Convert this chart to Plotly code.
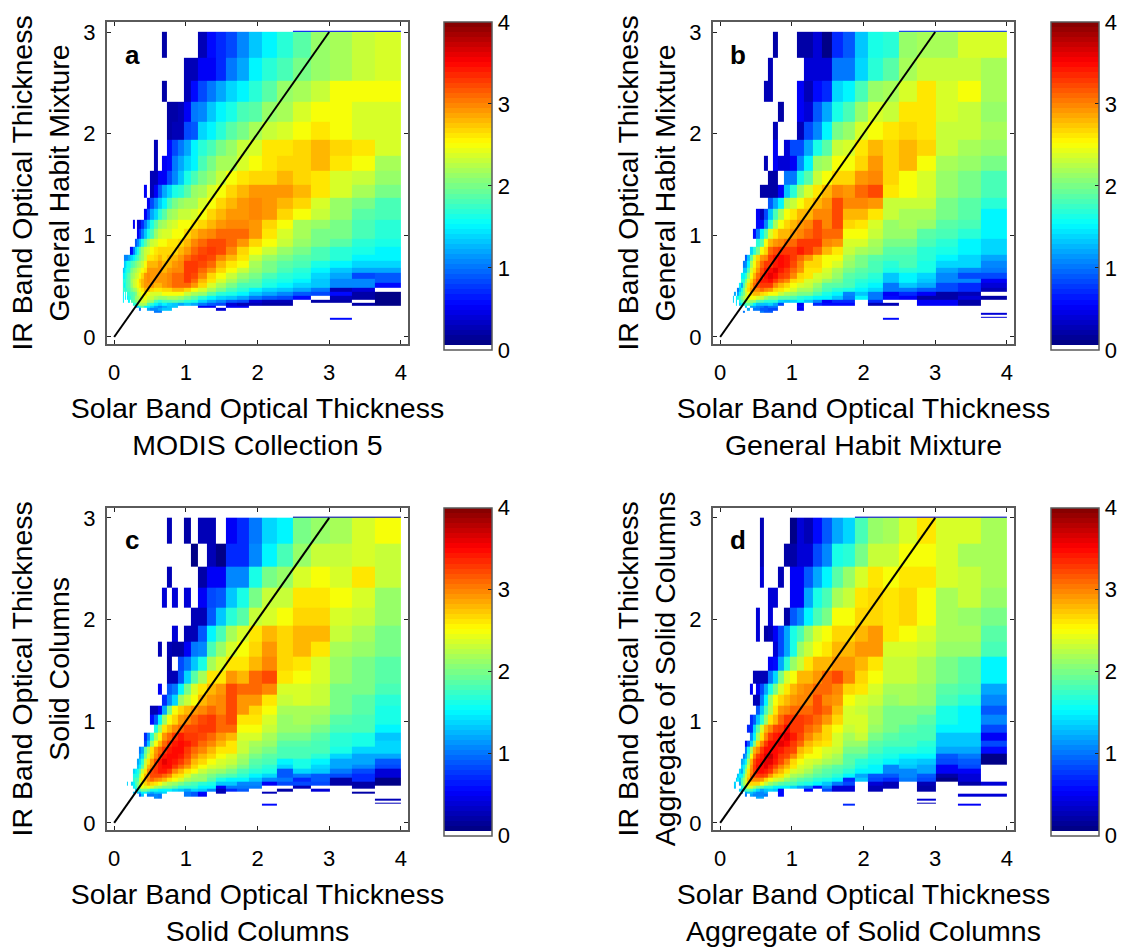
import plotly.graph_objects as go

_ = None
tau_x_edges = [.122,.134,.147,.162,.178,.195,.214,.236,.259,.285,.313,.344,.378,.415,.456,.501,.551,.605,.665,.731,.804,.883,.971,1.067,1.172,1.288,1.416,1.556,1.71,1.88,2.066,2.27,2.495,2.742,3.014,3.312,3.64,4.0]
tau_y_edges = [.17,.186,.2025,.22,.24,.26,.29,.31,.34,.37,.41,.44,.48,.53,.57,.63,.68,.75,.81,.89,.97,1.06,1.15,1.26,1.37,1.5,1.63,1.78,1.94,2.12,2.31,2.52,2.75,3.0,3.012]
diag_x = [0, 3]
diag_y = [0, 3]
tick_x = [0, 1, 2, 3, 4]
tick_y = [0, 1, 2, 3]
tick_c = [0, 1, 2, 3, 4]
letters = ["a", "b", "c", "d"]
y_titles = ["IR Band Optical Thickness<br>General Habit Mixture",
            "IR Band Optical Thickness<br>General Habit Mixture",
            "IR Band Optical Thickness<br>Solid Columns",
            "IR Band Optical Thickness<br>Aggregate of Solid Columns"]
x_titles = ["Solar Band Optical Thickness<br>MODIS Collection 5",
            "Solar Band Optical Thickness<br>General Habit Mixture",
            "Solar Band Optical Thickness<br>Solid Columns",
            "Solar Band Optical Thickness<br>Aggregate of Solid Columns"]

# log10-count values x10; rows run top to bottom, each row is right-aligned to the 4.0 edge
panel_a = [
[6,6,6,6,6],
[2,_,_,_,_,_,3,6,7,8,11,13,15,17,19,21,22,23,24],
[3,3,5,5,7,10,12,15,17,18,20,21,22,23,24],
[2,_,_,_,3,6,8,10,12,14,15,17,19,21,22,23,25,25,25],
[2,2,3,5,10,11,13,15,16,18,19,21,22,24,25,25,24,24],
[2,3,3,8,9,14,15,17,19,20,22,23,24,25,26,25,24,24],
[3,_,_,6,8,10,12,15,17,18,20,21,23,24,26,26,27,28,27,26,24],
[3,_,5,6,10,12,14,15,18,20,22,22,24,25,26,27,27,28,26,25,22],
[3,3,5,5,8,11,13,16,18,20,21,23,25,26,27,27,28,27,26,24,23,21],
[5,_,3,5,9,12,14,16,17,19,21,22,24,25,27,28,29,29,29,28,26,24,22,20],
[5,8,11,13,15,18,20,21,22,22,24,25,27,28,29,30,29,28,27,24,21,20,18],
[5,8,12,14,17,19,21,22,23,23,24,25,27,28,29,29,30,29,27,25,23,21,19,18],
[5,_,4,4,7,10,13,16,19,21,22,23,24,25,25,26,27,28,29,30,30,29,27,25,22,21,20,18,17],
[5,7,10,13,16,18,21,23,24,24,25,25,27,28,29,30,31,31,31,29,26,24,22,20,20,18,17],
[9,11,13,16,19,21,23,24,25,25,26,26,27,28,30,31,32,32,31,29,27,25,23,21,20,19,17,16],
[5,6,10,14,16,19,21,23,24,25,26,27,27,27,27,28,29,31,32,33,32,30,27,25,23,21,20,18,17,16,15],
[11,11,11,11,12,13,14,15,17,18,20,21,23,26,26,27,28,27,28,28,29,31,32,33,32,30,28,26,23,21,20,19,18,17,15,15],
[13,14,15,16,16,17,18,19,20,21,22,23,25,28,28,28,29,28,28,29,30,33,33,32,31,28,26,25,22,20,19,18,16,15,14,14],
[13,14,15,16,17,17,19,20,21,22,23,24,25,26,29,29,29,29,28,29,30,30,33,33,31,29,27,25,23,21,20,18,17,15,13,12,12],
[15,15,16,17,18,19,20,21,22,23,24,25,27,29,30,29,29,29,29,30,31,31,33,32,30,27,25,23,21,20,18,17,16,14,12,8,9],
[16,17,16,18,18,19,20,22,23,24,25,27,28,29,30,29,29,29,29,30,31,31,33,31,28,26,24,22,20,19,17,16,15,13,11,11,9],
[17,15,16,18,18,19,20,21,23,24,25,26,28,29,29,29,28,28,29,30,31,31,31,29,27,24,22,20,18,18,16,15,14,13,11,11,6],
[17,18,16,17,18,18,19,20,21,22,24,25,26,28,28,27,26,26,27,27,28,28,27,25,24,22,20,18,17,15,14,13,12,10,3,4,_],
[15,_,17,_,16,17,18,18,19,20,23,24,25,26,25,24,24,24,25,25,25,25,23,22,21,19,17,16,15,13,12,11,9,8,6,2,1],
[15,_,15,_,15,16,17,18,19,21,22,23,24,25,24,23,22,21,21,22,22,21,20,19,17,15,14,13,12,10,9,8,6,_,3,2,1],
[15,_,_,_,_,15,_,18,19,20,22,23,24,24,22,21,18,17,18,18,19,18,17,16,14,12,11,9,8,4,3,3,_,2,2,_,1],
[17,17,20,22,22,22,18,17,15,14,15,14,13,12,13,12,10,9,8,4,3,3,2,2,_,_,_,2,1],
[11,14,17,19,15,15,14,12,11,12,13,13,_,_,_,5,5,_,5,5]+[_]*8,
[10,_,_,12,11,11,12,13,13,_,_,_,_,_,_,4]+[_]*10,
[10,10]+[_]*19,
[], [], [],
[6,_,_],
]
panel_b = [
[7,7,7,7,7],
[2,_,_,_,2,2,4,1,7,9,13,16,17,21,22,22,24,24],
[3,_,_,_,_,_,4,4,4,10,10,14,17,19,22,23,23,23,22],
[3,3,_,_,_,_,5,3,6,7,14,15,18,21,22,24,26,24,25,22],
[2,_,_,5,4,9,12,16,18,21,24,23,26,26,24,23,21],
[3,_,_,_,3,8,11,15,20,21,24,25,26,27,26,23,23,22],
[5,_,4,8,8,12,16,19,23,24,26,28,27,28,27,23,22,21],
[3,_,5,4,4,5,11,15,21,22,25,25,27,29,27,28,25,22,21,20],
[2,2,_,10,10,16,19,23,25,27,27,29,30,27,25,24,21,20,18],
[2,2,2,2,5,13,17,21,24,26,28,30,29,31,32,26,25,24,21,20,18],
[9,12,15,22,23,25,27,28,29,32,30,30,29,23,23,23,20,19,17],
[5,3,8,13,18,22,25,26,28,28,30,30,32,28,28,26,23,22,22,20,19,15],
[6,6,11,17,22,25,27,28,29,30,32,30,32,27,26,24,21,22,21,19,18,15],
[6,10,15,19,24,26,28,28,29,30,31,32,31,31,25,25,23,21,21,19,18,17,15],
[17,19,25,28,29,30,31,31,33,33,33,30,29,24,24,22,20,20,18,17,15,14],
[14,17,20,25,27,31,32,33,33,33,34,33,31,28,26,23,22,21,19,19,17,16,15,14],
[9,13,19,24,27,29,30,33,34,35,34,33,31,29,27,25,25,22,20,19,18,18,17,15,14,12],
[10,11,15,22,25,28,31,33,33,34,35,34,32,30,27,27,25,24,21,20,18,17,18,16,14,14,11],
[13,13,18,24,26,29,32,34,35,36,34,33,31,29,26,26,24,22,20,19,18,16,17,16,12,11,10],
[15,15,17,21,25,28,31,33,35,36,35,33,32,30,27,26,24,23,21,19,18,17,13,15,14,11,8,8],
[17,16,20,24,27,30,32,34,34,35,33,31,30,27,26,24,23,21,20,18,17,16,13,15,13,11,11,5],
[15,12,18,22,26,28,31,32,33,33,33,30,28,27,25,24,23,21,19,19,18,16,15,10,13,12,8,7,4],
[10,13,16,20,24,27,29,30,30,31,30,29,27,26,25,24,22,22,20,18,17,16,15,14,10,10,9,8,7,3],
[12,_,12,15,18,20,23,25,27,28,28,27,26,25,25,23,22,21,20,20,18,16,15,11,13,10,5,7,5,2,3,_],
[14,_,15,16,18,20,22,24,25,25,25,24,23,21,20,20,19,19,18,17,16,15,15,13,10,15,10,6,5,2,2,4,2],
[14,_,14,_,16,18,20,22,22,21,21,19,18,17,17,17,14,13,14,15,13,11,5,7,7,_,7,_,_,5,5,2,_],
[15,_,13,15,17,18,19,18,15,13,13,13,14,12,8,_,_,5,_,7,6,6,6,_,3,3,_,5,5,2,_],
[13,_,12,12,11,10,9,10,10,_,_,_,6]+[_]*13,
[12,_,10,10,9,9,8,8,_,_,_,5]+[_]*13,
[10,_,_,_,_,_,10,9,9]+[_]*18,
[4], [], [4],
[6]+[_]*5,
]
panel_c = [
[3,3,3,3,3],
[3,_,_,2,_,3,3,_,5,7,10,14,15,20,21,22,24,25],
[1,_,3,1,7,7,11,15,18,21,23,23,24,23],
[3,_,_,_,_,2,5,5,11,11,16,20,21,24,25,24,26,23],
[4,_,4,_,4,_,5,8,9,13,16,20,23,23,26,26,25,24,21],
[3,3,9,13,17,19,23,24,25,27,27,24,23,21],
[4,_,3,3,9,15,18,22,24,26,28,27,28,28,23,22,20],
[3,_,3,2,2,5,10,11,18,21,24,25,27,29,27,28,26,22,21,20],
[2,_,8,10,13,16,22,24,26,26,28,30,27,26,24,21,20,19],
[3,3,9,14,19,22,26,26,29,28,31,32,26,25,24,21,20,19],
[5,_,9,10,15,20,24,26,28,29,32,31,31,30,24,24,23,20,20,18],
[7,11,14,21,23,25,28,29,30,32,29,29,26,23,24,23,20,19,17],
[3,3,5,12,20,25,27,28,29,30,31,30,32,29,27,25,22,22,22,20,19,16],
[6,9,15,21,25,27,29,30,31,32,33,31,32,26,26,24,21,22,21,19,18,16],
[16,21,26,28,30,31,32,32,33,33,31,31,25,25,23,21,21,20,18,18,15],
[7,11,17,22,25,29,31,33,34,33,33,32,31,29,28,24,24,22,20,20,19,17,16,13],
[8,13,21,25,28,31,33,34,35,34,33,31,30,28,26,23,22,21,19,19,18,17,16,14],
[10,12,19,22,26,29,31,33,34,35,35,33,31,30,28,26,26,23,21,20,18,18,18,16,14,14],
[12,14,20,24,27,30,32,34,35,35,34,32,30,28,27,25,24,22,20,19,18,18,17,14,12,12],
[12,14,17,23,26,29,32,34,36,35,34,33,31,28,27,25,24,23,21,19,18,15,16,15,12,12,9],
[13,15,19,24,28,30,33,34,35,35,33,31,29,27,25,24,23,22,20,18,17,14,16,14,12,11,8],
[14,15,16,19,23,26,30,32,33,34,34,33,30,28,26,25,23,22,21,20,18,17,16,9,14,13,10,8,4],
[16,16,17,21,25,28,30,32,32,32,31,30,27,26,24,22,21,20,19,18,17,15,14,9,10,9,8,7,4],
[17,18,18,23,26,28,30,31,30,29,28,26,25,24,22,21,21,19,16,15,15,13,11,10,7,9,2,7,1],
[14,_,_,14,15,18,20,23,25,27,28,27,26,25,23,22,21,20,19,18,17,16,13,13,11,11,5,8,8,8,2,2,1],
[15,17,20,23,25,24,25,24,22,21,20,20,19,17,17,17,15,15,5,10,10,10,_,_,3,_,_,2,_],
[13,17,18,20,20,19,16,16,15,15,15,14,13,12,14,13,11,3,7,9,_,_,2,_,4,_,_,_],
[13,_,13,12,15,15,13,12,13,13,14,_,_,_,10,9,6,_,3,_,_,_,3,_,_,_,_,2,_],
[9,13,_,10,10,11,10,_,_,_,_,10,9,5]+[_]*12,
[11,10]+[_]*19,
[3], [], [3],
[6]+[_]*6,
]
panel_d = [
[4,4,4,4,4,4,4,4],
[3,_,_,_,_,_,1,4,3,6,9,12,14,18,21,22,24,26,24,24,22],
[3,_,_,_,_,2,2,4,4,8,11,16,17,20,23,23,25,25,24,22,22],
[4,_,_,_,3,_,5,5,9,12,15,19,21,24,26,25,26,26,24,23,22],
[4,4,_,_,5,5,12,16,18,22,23,26,27,26,27,25,22,23,21],
[4,_,_,4,_,_,2,9,11,15,18,20,25,25,27,27,26,27,25,22,21,20],
[4,_,2,3,5,8,12,16,18,21,24,25,27,27,28,29,26,25,24,22,22,19],
[4,8,12,16,21,23,25,26,28,28,29,29,24,24,23,21,21,18],
[5,6,12,17,21,23,26,28,28,29,29,28,26,23,23,22,20,19,15],
[3,3,3,3,10,14,20,24,25,28,28,29,31,32,30,27,25,23,23,22,20,19,15],
[5,_,5,8,12,16,20,24,26,28,29,30,31,31,30,27,26,24,22,22,21,19,18,12],
[3,3,10,15,21,25,27,28,29,30,30,32,30,29,25,24,23,21,22,21,18,17,11],
[9,13,18,22,26,29,30,31,31,31,32,31,28,24,23,22,20,20,20,16,15,9],
[7,9,13,17,21,26,28,31,33,33,33,32,31,29,27,24,24,22,20,20,19,16,15,11],
[7,7,14,19,24,28,30,32,33,35,33,33,31,30,27,25,23,24,21,20,19,18,15,15,8],
[11,15,22,26,30,33,34,35,36,34,32,30,28,27,24,22,23,20,19,18,18,13,13,5],
[5,9,14,20,27,30,33,35,35,36,35,33,31,28,27,26,24,21,21,19,18,18,17,13,13,8],
[10,16,22,28,30,33,35,35,35,34,33,32,28,27,25,24,23,20,20,18,17,17,16,12,12,6],
[10,12,18,25,30,33,34,36,37,35,33,32,30,27,25,25,23,22,19,19,17,16,15,15,9,10,1],
[12,13,15,22,28,32,34,35,36,36,34,32,30,27,25,24,23,22,21,19,17,16,15,14,13,8,9,1],
[14,15,19,24,29,33,35,35,36,34,32,30,28,26,24,23,21,20,19,18,16,15,11,13,12,5,8,_],
[14,12,16,21,26,30,33,35,35,34,33,30,28,26,24,23,22,20,19,18,17,15,15,11,11,12,5,5,_],
[13,15,15,19,23,27,31,32,33,33,32,29,27,26,24,22,21,20,19,18,17,15,12,9,9,11,9,2,4,_],
[13,15,13,18,21,24,28,30,30,30,29,27,25,24,23,21,20,19,18,17,16,15,7,13,8,7,10,8,1,4,_],
[14,_,_,12,18,21,24,26,27,27,27,25,23,21,20,19,18,18,17,16,15,13,10,8,_,4,3,_,3,_,2,4],
[13,_,_,_,16,18,22,24,24,22,20,19,17,17,15,15,15,14,12,11,6,11,4,4,_,3,3,_,2,_,_,_],
[14,13,17,18,19,18,16,14,12,13,14,13,6,_,_,_,6,_,8,4,4,_,3,_,_,2,_,_,_],
[11,_,12,13,13,12,11,11,12,_,_,6]+[_]*16,
[10,_,12,11,11,11,10,_,_,6]+[_]*14+[4,4],
[12,12]+[_]*20,
[4,_,_,_], [], [3,_,_,_],
[7,_,_,_,_,_,_,5,_],
]
panels = [panel_a, panel_b, panel_c, panel_d]


def jet(t):
    def ramp(v):
        return max(0.0, min(1.0, 1.5 - abs(4 * t - v)))
    return f"rgb({round(255*ramp(3))},{round(255*ramp(2))},{round(255*ramp(1))})"


steps = 64
frac = 1 / (steps + 1)
cscale = [[0, "white"], [frac, "white"]]
for i in range(steps):
    col = jet((i + 0.5) / steps)
    cscale += [[(i + 1) * frac, col], [(i + 2) * frac, col]]

W, H = 1122, 949
FONT = "Liberation Sans"
GRAY = "#5a5a5a"
lefts = [107, 713, 107, 713]
tops = [20, 20, 510, 510]
cb_lefts = [444, 1051, 444, 1051]

fig = go.Figure()
layout = {}
for n, rows in enumerate(panels):
    s = "" if n == 0 else str(n + 1)
    full = [[_] * (37 - len(r)) + r for r in rows]
    z = [[(v / 10 if v is not None else None) for v in r] for r in full][::-1]
    L, T = lefts[n], tops[n]
    fig.add_trace(go.Heatmap(
        x=tau_x_edges, y=tau_y_edges, z=z, xaxis="x" + s, yaxis="y" + s,
        zmin=0, zmax=4, colorscale=cscale, hoverongaps=False,
        colorbar=dict(
            x=cb_lefts[n] / W, xanchor="left", xpad=0, y=1 - T / H, yanchor="top", ypad=0,
            len=328, lenmode="pixels", thickness=48, thicknessmode="pixels",
            tickvals=tick_c, ticks="inside", ticklen=4, tickwidth=1, tickcolor="#222",
            tickfont=dict(family=FONT, size=22, color="black"),
            outlinecolor=GRAY, outlinewidth=1.5, bgcolor="rgba(0,0,0,0)", ticklabelposition="outside",
        ),
    ))
    fig.add_trace(go.Scatter(x=diag_x, y=diag_y, mode="lines", line=dict(color="black", width=2),
                             xaxis="x" + s, yaxis="y" + s, showlegend=False, hoverinfo="skip"))
    layout["xaxis" + s] = dict(
        domain=[L / W, (L + 301) / W], anchor="y" + s, range=[-0.1, 4.1],
        tickvals=tick_x, ticks="inside", ticklen=4, tickwidth=1, tickcolor="#222",
        showline=True, linecolor=GRAY, linewidth=2, mirror="allticks", showgrid=False, zeroline=False,
        tickfont=dict(family=FONT, size=22, color="black"), ticklabelstandoff=8,
        title=dict(text=x_titles[n], font=dict(family=FONT, size=28.5, color="black"), standoff=14),
    )
    layout["yaxis" + s] = dict(
        domain=[1 - (T + 325) / H, 1 - T / H], anchor="x" + s, range=[-0.07, 3.1],
        tickvals=tick_y, ticks="inside", ticklen=4, tickwidth=1, tickcolor="#222",
        showline=True, linecolor=GRAY, linewidth=2, mirror="allticks", showgrid=False, zeroline=False,
        tickfont=dict(family=FONT, size=22, color="black"), ticklabelstandoff=5,
        title=dict(text=y_titles[n], font=dict(family=FONT, size=28.5, color="black"), standoff=5),
    )

annotations = [dict(x=(lefts[n] + 25) / W, y=1 - (tops[n] + 33) / H, xref="paper", yref="paper",
                    xanchor="center", yanchor="middle",
                    text=f"<b>{letters[n]}</b>", showarrow=False,
                    font=dict(family=FONT, size=26, color="black")) for n in range(4)]

fig.update_layout(width=W, height=H, autosize=False, margin=dict(l=0, r=0, t=0, b=0),
                  paper_bgcolor="white", plot_bgcolor="white", showlegend=False,
                  annotations=annotations, **layout)
fig.write_html("out.html", config={"displayModeBar": False},
               post_script="document.body.style.margin='0';document.body.style.overflow='hidden';")
